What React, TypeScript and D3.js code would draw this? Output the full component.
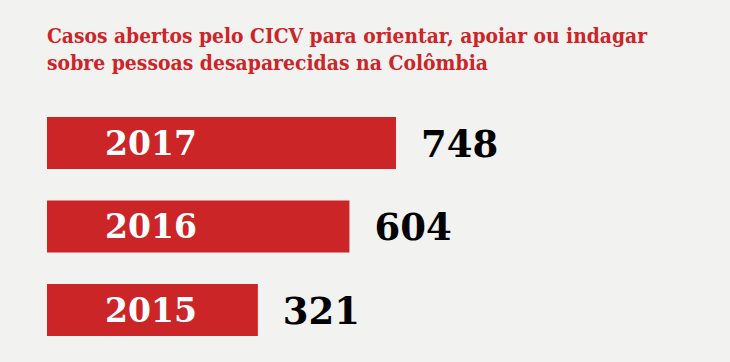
import React, { useEffect, useRef } from "react"
import * as d3 from "d3"

// data
const years = ["2017", "2016", "2015"]
const cases = [748, 604, 321]
const titleLines = [
  "Casos abertos pelo CICV para orientar, apoiar ou indagar",
  "sobre pessoas desaparecidas na Colômbia",
]

const RED = "#cc2528"
const BG = "#f2f2f1"

const App = () => {
  const canvas = useRef<SVGSVGElement>(null)

  useEffect(() => {
    const canvasWidth = 730
    const canvasHeight = 362
    const svg = d3.select(canvas.current)
    svg.selectAll("*").remove()
    svg.attr("width", canvasWidth).attr("height", canvasHeight)

    svg
      .append("rect")
      .attr("width", canvasWidth)
      .attr("height", canvasHeight)
      .attr("fill", BG)

    // title
    const titleWidths = [600, 441]
    svg
      .selectAll("text.title")
      .data(titleLines)
      .enter()
      .append("text")
      .attr("class", "title")
      .attr("x", 47)
      .attr("y", (d, i) => 43 + i * 27)
      .attr("textLength", (d, i) => titleWidths[i])
      .attr("lengthAdjust", "spacingAndGlyphs")
      .style("font-family", "'DejaVu Serif', serif")
      .style("font-weight", "bold")
      .style("font-size", "20px")
      .attr("fill", RED)
      .text(d => d)

    const data = years.map((y, i) => ({ year: y, value: cases[i] }))

    // bars keep a fixed room for the year label, then grow with the value
    const x = d3.scaleLinear().domain([0, 748]).range([107, 349])
    const y = d3
      .scaleBand()
      .domain(years)
      .range([117, 336])
      .paddingInner(0.377)

    const left = 47

    const rows = svg
      .selectAll("g.row")
      .data(data)
      .enter()
      .append("g")
      .attr("class", "row")
      .attr("transform", d => "translate(0," + y(d.year) + ")")

    rows
      .append("rect")
      .attr("x", left)
      .attr("width", d => x(d.value))
      .attr("height", y.bandwidth())
      .attr("fill", RED)

    rows
      .append("text")
      .attr("x", 105)
      .attr("y", y.bandwidth() / 2 + 12)
      .style("font-family", "'DejaVu Serif', serif")
      .style("font-weight", "bold")
      .style("font-size", "33px")
      .attr("fill", "#ffffff")
      .text(d => d.year)

    rows
      .append("text")
      .attr("x", d => left + x(d.value) + 25)
      .attr("y", y.bandwidth() / 2 + 14)
      .style("font-family", "'DejaVu Serif', serif")
      .style("font-weight", "bold")
      .style("font-size", "37px")
      .attr("fill", "#000000")
      .text(d => d.value)
  }, [])

  return (
    <div style={{ position: "absolute", left: 0, top: 0, width: 730, height: 362, overflow: "hidden" }}>
      <svg ref={canvas} style={{ display: "block" }}></svg>
    </div>
  )
}

export default App
